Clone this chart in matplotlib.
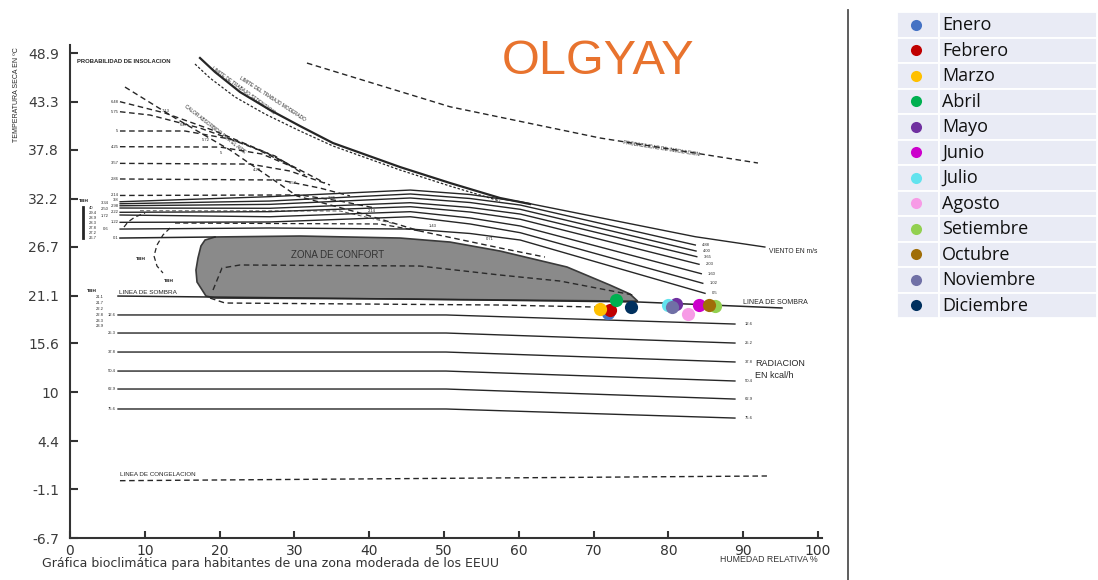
import matplotlib
matplotlib.use("Agg")
import matplotlib.pyplot as plt
from matplotlib.patches import Polygon, Rectangle
from matplotlib.lines import Line2D

W, H = 1098, 580

# ---------------- data (x = humedad relativa %, y = temperatura seca C) ----------------
y_ticks = [48.9, 43.3, 37.8, 32.2, 26.7, 21.1, 15.6, 10, 4.4, -1.1, -6.7]
y_tick_labels = ["48.9", "43.3", "37.8", "32.2", "26.7", "21.1", "15.6", "10", "4.4", "-1.1", "-6.7"]
x_ticks = [0, 10, 20, 30, 40, 50, 60, 70, 80, 90, 100]

months = ["Enero", "Febrero", "Marzo", "Abril", "Mayo", "Junio", "Julio",
          "Agosto", "Setiembre", "Octubre", "Noviembre", "Diciembre"]
month_colors = ["#4472C4", "#C00000", "#FFC000", "#00B050", "#7030A0", "#CC00CC",
                "#62E3EE", "#F79BE6", "#92D050", "#A06E08", "#7070A6", "#00305E"]
month_rh = [71.9, 72.2, 70.9, 73.0, 81.0, 84.1, 80.0, 82.6, 86.2, 85.4, 80.5, 75.0]
month_temp = [19.09, 19.44, 19.52, 20.58, 20.12, 20.04, 20.04, 18.98, 19.90, 20.04, 19.78, 19.81]

# zona de confort
comfort_x = [19.39, 30.75, 44.12, 50.80, 57.49, 66.44, 72.19, 74.87, 75.90, 44.12, 19.39,
             18.18, 16.98, 16.84, 17.11, 17.51, 18.05]
comfort_y = [27.81, 27.92, 27.69, 27.23, 26.20, 24.37, 22.30, 21.27, 20.45, 20.70, 20.81,
             21.04, 22.65, 24.02, 25.40, 26.78, 27.46]
comfort_top_ext_x = [6.68, 19.39]
comfort_top_ext_y = [27.69, 27.81]
comfort_inner_x = [19.12, 20.32, 22.73, 46.79, 57.49, 65.51, 75.27]
comfort_inner_y = [21.73, 24.25, 24.60, 24.48, 23.45, 22.76, 21.16]
comfort_below_x = [18.72, 20.72, 57.49, 70.19]
comfort_below_y = [20.81, 20.24, 20.01, 19.78]

# linea de sombra
shade_x = [6.42, 44.12, 76.20, 95.19]
shade_y = [21.04, 20.70, 20.35, 19.67]

# lineas de viento (m/s)
wind_x = [
    [6.7, 26.7, 45.5, 53.5, 60.2, 83.6, 92.9],
    [6.7, 26.7, 45.5, 53.5, 60.2, 83.6],
    [6.7, 26.7, 45.5, 53.5, 60.2, 83.7],
    [6.7, 26.7, 45.5, 53.5, 60.2, 83.8],
    [6.7, 26.7, 45.5, 53.5, 60.2, 84.1],
    [6.7, 26.7, 45.5, 53.5, 60.2, 84.4],
    [6.7, 26.7, 45.5, 53.5, 60.2, 84.6],
    [6.7, 26.7, 45.5, 53.5, 60.2, 84.9],
]
wind_y = [
    [31.85, 32.43, 33.19, 32.68, 31.85, 27.84, 26.66],
    [31.62, 31.93, 32.74, 32.22, 31.47, 26.89],
    [31.39, 31.55, 32.28, 31.76, 30.98, 26.20],
    [31.13, 31.10, 31.74, 31.19, 30.44, 25.55],
    [30.64, 30.71, 31.28, 30.67, 29.84, 24.68],
    [30.33, 30.13, 30.71, 29.99, 29.07, 23.60],
    [29.49, 29.53, 30.13, 29.30, 28.30, 22.50],
    [28.72, 28.84, 28.72, 28.21, 27.46, 21.35],
]
wind_left_labels = ["3.8", "3.34", "2.98", "2.50", "2.22", "1.72", "1.22", "0.6"]
# the left labels sit in two narrow columns because the lines are only 2 px apart
wind_left_label_y = [32.0, 31.7, 31.35, 31.0, 30.65, 30.25, 29.5, 28.72]
wind_right_labels = ["", "4.88", "4.00", "3.65", "2.03", "1.60", "1.02", "0.5"]

# radiacion (kcal/h)
rad_x = [6.42, 50.27, 88.90]
rad_y = [
    [18.87, 18.87, 17.83],
    [16.80, 16.80, 15.65],
    [14.62, 14.62, 13.48],
    [12.44, 12.44, 11.30],
    [10.38, 10.38, 9.23],
    [8.09, 8.09, 7.05],
]
rad_left_labels = ["12.6", "25.3", "37.8", "50.4", "62.9", "75.6"]
rad_right_labels = ["12.6", "25.2", "37.8", "50.4", "62.9", "75.6"]

# linea de congelacion
freeze_x = [6.68, 93.18]
freeze_y = [-0.13, 0.41]

# probabilidad de insolacion
insol_x = [31.68, 50.80, 70.86, 91.98]
insol_y = [47.75, 42.74, 39.16, 36.29]

# limites de trabajo
limit1_x = [17.38, 19.39, 22.73, 26.74, 30.75, 35.16, 44.12, 50.80, 57.49, 61.50]
limit1_y = [48.33, 46.72, 44.43, 42.37, 40.53, 38.58, 35.83, 34.00, 32.28, 31.59]
limit2_x = [16.71, 18.72, 22.06, 26.07, 30.75, 35.16, 44.12, 50.80, 57.49]
limit2_y = [47.64, 46.03, 43.86, 41.91, 39.96, 38.24, 35.49, 33.65, 31.93]

# enfriamiento evaporativo (lineas discontinuas)
evap_x = [
    [6.68, 12.70, 19.39, 26.07, 30.75],
    [6.68, 10.70, 17.38, 24.06, 29.41],
    [6.68, 15.37, 21.39, 27.41, 31.42],
    [6.68, 20.05, 25.67, 30.75, 34.09],
    [6.68, 24.06, 29.41, 34.76],
    [6.68, 28.07, 33.42, 37.43],
    [6.68, 30.75, 36.10, 40.78],
]
evap_y = [
    [43.32, 42.02, 39.96, 37.55, 35.49],
    [42.17, 41.79, 40.30, 38.24, 36.06],
    [39.96, 39.96, 39.04, 37.09, 34.91],
    [38.16, 38.12, 37.32, 35.49, 34.00],
    [36.25, 36.17, 35.37, 33.77],
    [34.46, 34.34, 33.42, 32.51],
    [32.57, 32.63, 31.93, 31.13],
]
evap_labels = ["6.48", "5.75", "5", "4.25", "3.57", "2.86", "2.14"]
diag_x = [7.35, 14.04, 21.39, 30.35, 38.77, 46.79, 57.49, 63.50]
diag_y = [45.00, 41.45, 37.78, 32.51, 30.56, 28.49, 26.55, 25.51]
diag_labels = ["7.13", "6.47", "5.72", "5", "4.29", "3.57", "2.86", "2.14", "1.43", "0.71"]
diag_label_x = [12.3, 14.7, 17.6, 20.0, 24.5, 29.3, 34.5, 39.8, 47.9, 55.6]
diag_label_y = [42.0, 40.4, 38.7, 37.2, 35.3, 33.8, 32.0, 30.6, 28.8, 27.3]
wet1_x = [14.04, 41.44, 46.79]
wet1_y = [29.41, 29.30, 28.49]
wet2_x = [9.36, 36.10, 43.50]
wet2_y = [30.82, 30.79, 29.30]

# temperatura de bulbo humedo (escalas pequenas)
tbh_top_labels = ["40", "29.4", "28.9", "28.3", "27.8", "27.2", "26.7"]
tbh_low_labels = ["21.1", "21.7", "22.2", "22.8", "23.3", "23.9"]
arc1_x = [7.22, 7.75, 8.69, 10.03]
arc1_y = [28.95, 29.53, 30.10, 30.56]
arc2_x = [13.37, 12.43, 11.63, 11.23, 11.63, 12.43]
arc2_y = [28.84, 28.04, 26.89, 25.63, 24.48, 23.68]

INK = "#262626"
DASH = (0, (4, 2.6))
TINY = dict(fontsize=3.0, color=INK, family="Liberation Sans")

fig = plt.figure(figsize=(W / 100, H / 100), dpi=100)
ax = fig.add_axes([70 / W, (H - 538) / H, 751.7 / W, 493 / H])
ax.set_xlim(0, 100.5)
ax.set_ylim(-6.7, 49.82)

# comfort zone
ax.add_patch(Polygon(list(zip(comfort_x, comfort_y)), closed=True,
                     facecolor="#8a8a8a", edgecolor="#3a3a3a", lw=1.2, zorder=2))
ax.plot(comfort_top_ext_x, comfort_top_ext_y, color=INK, lw=1.1, zorder=3)
ax.plot(comfort_inner_x, comfort_inner_y, color="#2a2a2a", lw=1.0, ls=DASH, zorder=3)
ax.plot(comfort_below_x, comfort_below_y, color=INK, lw=1.0, ls=DASH, zorder=3)
ax.plot(shade_x, shade_y, color=INK, lw=1.1, zorder=3)

for xs, ys in zip(wind_x, wind_y):
    ax.plot(xs, ys, color=INK, lw=1.0, zorder=3)
for i, lab in enumerate(wind_left_labels):
    lx = 6.5 if i % 2 == 0 else 5.2
    ax.text(lx, wind_left_label_y[i], lab, ha="right", va="center", **TINY)
ax.text(6.5, comfort_top_ext_y[0], "0.1", ha="right", va="center", **TINY)
for i, lab in enumerate(wind_right_labels):
    if lab:
        ax.text(wind_x[i][-1] + 0.9, wind_y[i][-1], lab, ha="left", va="center", **TINY)

for ys, l_lab, r_lab in zip(rad_y, rad_left_labels, rad_right_labels):
    ax.plot(rad_x, ys, color=INK, lw=1.0, zorder=3)
    ax.text(rad_x[0] - 0.3, ys[0], l_lab, ha="right", va="center", **TINY)
    ax.text(rad_x[-1] + 1.3, ys[-1], r_lab, ha="left", va="center", **TINY)

ax.plot(freeze_x, freeze_y, color=INK, lw=1.0, ls=DASH)
ax.plot(insol_x, insol_y, color=INK, lw=1.0, ls=DASH)
ax.plot(limit1_x, limit1_y, color=INK, lw=1.6)
ax.plot(limit2_x, limit2_y, color=INK, lw=0.9, ls=(0, (2, 1.5)))

for xs, ys, lab in zip(evap_x, evap_y, evap_labels):
    ax.plot(xs, ys, color=INK, lw=1.0, ls=DASH)
    ax.text(6.5, ys[0], lab, ha="right", va="center", **TINY)
ax.plot(diag_x, diag_y, color=INK, lw=1.0, ls=DASH)
for lx, ly, lab in zip(diag_label_x, diag_label_y, diag_labels):
    ax.text(lx, ly, lab, ha="left", va="bottom", **TINY)
ax.plot(wet1_x, wet1_y, color=INK, lw=0.9, ls=DASH)
ax.plot(wet2_x, wet2_y, color="#555555", lw=0.7, ls=DASH)
ax.plot(arc1_x, arc1_y, color=INK, lw=0.9, ls=DASH)
ax.plot(arc2_x, arc2_y, color=INK, lw=0.9, ls=DASH)

# TBH scales
ax.plot([1.74, 1.74], [31.21, 27.69], color=INK, lw=2.0)
ax.text(1.2, 31.8, "TBH", fontsize=3.2, color=INK, fontweight="bold")
for i, lab in enumerate(tbh_top_labels):
    ax.text(2.5, 31.1 - i * 0.57, lab, ha="left", va="center", **TINY)
ax.text(2.3, 21.5, "TBH", fontsize=3.2, color=INK, fontweight="bold")
for i, lab in enumerate(tbh_low_labels):
    ax.text(3.4, 20.95 - i * 0.68, lab, ha="left", va="center", **TINY)
ax.text(8.8, 25.2, "TBH", fontsize=3.2, color=INK, fontweight="bold")
ax.text(12.6, 22.7, "TBH", fontsize=3.2, color=INK, fontweight="bold")

# labels inside the chart
ax.text(35.8, 25.75, "ZONA DE CONFORT", ha="center", va="center", fontsize=7,
        color="#333333", family="Liberation Sans")
ax.text(6.6, 21.2, "LINEA DE SOMBRA", ha="left", va="bottom", fontsize=4.6, color=INK,
        family="Liberation Sans")
ax.text(90.0, 20.35, "LINEA DE SOMBRA", ha="left", va="center", fontsize=5, color=INK,
        family="Liberation Sans")
ax.text(93.4, 26.2, "VIENTO EN m/s", ha="left", va="center", fontsize=4.8, color=INK,
        family="Liberation Sans")
ax.text(91.6, 13.3, "RADIACION", ha="left", va="center", fontsize=6.5, color=INK,
        family="Liberation Sans")
ax.text(91.6, 11.9, "EN kcal/h", ha="left", va="center", fontsize=6.5, color=INK,
        family="Liberation Sans")
ax.text(6.7, 0.35, "LINEA DE CONGELACION", ha="left", va="bottom", fontsize=4.5, color=INK,
        family="Liberation Sans")
ax.text(1.0, 47.9, "PROBABILIDAD DE INSOLACION", ha="left", va="center", fontsize=4.2,
        color=INK, fontweight="bold", family="Liberation Sans")
ax.text(79.0, 38.0, "PROBABILIDAD DE INSOLACION", ha="center", va="center", fontsize=3.6,
        color=INK, rotation=-9, family="Liberation Sans")
ax.text(27.0, 43.6, "LIMITE DEL TRABAJO MODERADO", ha="center", va="center", fontsize=3.4,
        color=INK, rotation=-33, family="Liberation Sans")
ax.text(23.2, 44.6, "LIMITE DE TRABAJO SEDENTARIO", ha="center", va="center", fontsize=3.4,
        color=INK, rotation=-36, family="Liberation Sans")
ax.text(19.4, 40.2, "CALOR ABSORBIDO POR EL AIRE", ha="center", va="center", fontsize=3.4,
        color=INK, rotation=-38, family="Liberation Sans")

# monthly points
for rh, t, c in zip(month_rh, month_temp, month_colors):
    ax.plot(rh, t, "o", ms=9.5, color=c, mec="none", zorder=5)

# axes styling
for side in ("top", "right"):
    ax.spines[side].set_visible(False)
for side in ("left", "bottom"):
    ax.spines[side].set_color("#333333")
    ax.spines[side].set_linewidth(1.5)
ax.set_yticks(y_ticks)
ax.set_yticklabels(y_tick_labels)
ax.set_xticks(x_ticks)
ax.tick_params(axis="y", direction="in", length=6, width=1.5, pad=8, labelsize=10,
               labelcolor="#3c3c3c", color="#333333")
ax.tick_params(axis="x", direction="in", length=5, width=1.5, pad=4, labelsize=10,
               labelcolor="#333333", color="#333333")

fig.text(17 / W, 1 - 95 / H, "TEMPERATURA SECA EN \u00baC", rotation=90, ha="center",
         va="center", fontsize=5, color=INK, family="Liberation Sans")
fig.text(42 / W, 1 - 564 / H, "Gr\u00e1fica bioclim\u00e1tica para habitantes de una zona moderada de los EEUU",
         ha="left", va="center", fontsize=9, color="#333333")
fig.text(818 / W, 1 - 560 / H, "HUMEDAD RELATIVA %", ha="right", va="center", fontsize=6.3,
         color="#333333", family="Liberation Sans")
fig.text(598 / W, 1 - 62 / H, "OLGYAY", ha="center", va="center", fontsize=35,
         color="#E8732E", family="Liberation Sans")

# separator
fig.add_artist(Line2D([848 / W, 848 / W], [0, 1 - 10 / H], color="#505050", lw=1.3))

# legend table
lax = fig.add_axes([897 / W, (H - 318) / H, 200 / W, 306 / H])
lax.set_xlim(0, 200)
lax.set_ylim(len(months), 0)
lax.axis("off")
for i, (name, col) in enumerate(zip(months, month_colors)):
    lax.add_patch(Rectangle((0, i), 42, 1, facecolor="#E9EBF5", edgecolor="white", lw=1.3))
    lax.add_patch(Rectangle((42, i), 158, 1, facecolor="#E9EBF5", edgecolor="white", lw=1.3))
    lax.plot(19, i + 0.5, "o", ms=8, color=col, mec="none")
    lax.text(45, i + 0.52, name, ha="left", va="center", fontsize=13, color="#111111",
             family="Open Sans")

fig.savefig("out.png", dpi=100)
